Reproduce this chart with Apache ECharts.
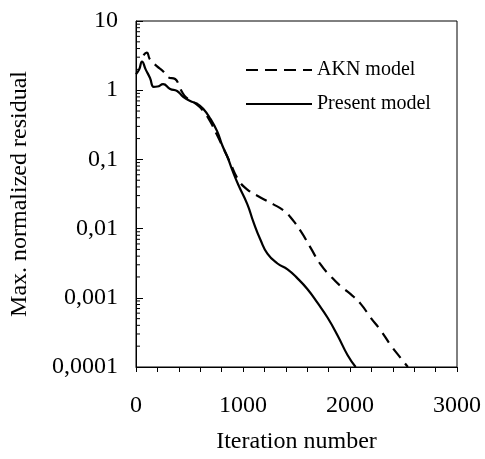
<!DOCTYPE html>
<html>
<head>
<meta charset="utf-8">
<script src="https://cdn.jsdelivr.net/npm/echarts@6/dist/echarts.min.js"></script>
<style>
html,body{margin:0;padding:0;background:#fff;}
#c{width:485px;height:459px;}
</style>
</head>
<body>
<div id="c"></div>
<script>
// Present model (solid)
var presentIter = [0, 30, 56, 90, 131, 165, 200, 253, 319, 384, 441, 506, 572, 628, 694, 759, 806, 853, 900, 956, 1041, 1097, 1163, 1228, 1322, 1416, 1509, 1603, 1697, 1791, 1884, 1978, 2053];
var presentVal  = [1.7, 2.0, 2.6, 2.0, 1.5, 1.12, 1.13, 1.22, 1.04, 0.975, 0.80, 0.70, 0.636, 0.54, 0.389, 0.254, 0.16, 0.11, 0.07, 0.043, 0.0224, 0.0125, 0.0069, 0.00435, 0.00313, 0.00257, 0.00191, 0.00133, 0.000843, 0.000515, 0.000286, 0.000148, 0.0001];
// AKN model (dashed)
var aknIter = [70, 100, 131, 197, 253, 300, 366, 400, 431, 470, 534, 628, 694, 759, 816, 881, 956, 1041, 1163, 1284, 1378, 1444, 1538, 1631, 1725, 1819, 1913, 2006, 2100, 2194, 2288, 2381, 2475, 2541];
var aknVal  = [3.2, 3.5, 2.78, 2.21, 1.88, 1.54, 1.45, 1.2, 0.94, 0.78, 0.68, 0.505, 0.352, 0.223, 0.145, 0.089, 0.051, 0.0366, 0.0282, 0.0224, 0.0184, 0.0146, 0.00925, 0.0053, 0.00303, 0.00205, 0.00147, 0.00113, 0.000817, 0.000515, 0.000336, 0.000206, 0.000134, 0.0001];
// Axis tick labels
var xTickLabels = ['0', '1000', '2000', '3000'];
var yTickLabels = ['0,0001', '0,001', '0,01', '0,1', '1', '10'];
var yMinorMultipliers = [2, 3, 4, 5, 6, 7, 8, 9];
var yDecades = [0.0001, 0.001, 0.01, 0.1, 1];

function pairs(xs, ys) { return xs.map(function (x, i) { return [x, ys[i]]; }); }
var minorData = [];
yDecades.forEach(function (d) { yMinorMultipliers.forEach(function (m) { minorData.push([0, d * m]); }); });

var FONT = '"Liberation Serif", "Times New Roman", serif';
var chart = echarts.init(document.getElementById('c'), null, {renderer: 'canvas'});
chart.setOption({
  animation: false,
  backgroundColor: '#fff',
  grid: {left: 136, top: 21, right: 28, bottom: 87, show: true, borderColor: '#000', borderWidth: 1, backgroundColor: 'transparent'},
  legend: {
    orient: 'vertical', left: 240, top: 55, itemWidth: 66, itemHeight: 14, itemGap: 14,
    textStyle: {fontFamily: FONT, fontSize: 20, color: '#000'},
    itemStyle: {opacity: 0},
    data: ['AKN model', 'Present model']
  },
  xAxis: {
    type: 'value', min: 0, max: 3000, interval: 1000,
    name: 'Iteration number', nameLocation: 'middle', nameGap: 63,
    nameTextStyle: {fontFamily: FONT, fontSize: 24, color: '#000'},
    axisLine: {show: true, lineStyle: {color: '#000', width: 1}},
    axisTick: {show: true, length: 5, lineStyle: {color: '#000'}},
    minorTick: {show: true, splitNumber: 5, length: 5, lineStyle: {color: '#000'}},
    splitLine: {show: false},
    axisLabel: {fontFamily: FONT, fontSize: 24, color: '#000', margin: 27,
      formatter: function (v) { return xTickLabels[Math.round(v / 1000)]; }}
  },
  yAxis: {
    type: 'log', logBase: 10, min: 0.0001, max: 10,
    name: 'Max. normalized residual', nameLocation: 'middle', nameGap: 104,
    nameTextStyle: {fontFamily: FONT, fontSize: 24, color: '#000'},
    axisLine: {show: true, lineStyle: {color: '#000', width: 1}},
    axisTick: {show: true, inside: true, length: 7, lineStyle: {color: '#000'}},
    splitLine: {show: false},
    axisLabel: {fontFamily: FONT, fontSize: 24, color: '#000', margin: 18,
      formatter: function (v) { return yTickLabels[Math.round(Math.log10(v)) + 4]; }}
  },
  series: [
    {
      name: 'AKN model', type: 'line', data: pairs(aknIter, aknVal),
      symbol: 'none', smooth: 0.5,
      lineStyle: {color: '#000', width: 2.2, type: [12, 7]},
      itemStyle: {color: '#000'}
    },
    {
      name: 'Present model', type: 'line', data: pairs(presentIter, presentVal),
      symbol: 'none', smooth: 0.5,
      lineStyle: {color: '#000', width: 2.2, type: 'solid'},
      itemStyle: {color: '#000'}
    },
    {
      name: 'minorTicks', type: 'custom', data: minorData, silent: true, clip: false,
      renderItem: function (params, api) {
        var p = api.coord([api.value(0), api.value(1)]);
        return {type: 'line', shape: {x1: p[0], y1: p[1], x2: p[0] + 4, y2: p[1]},
          style: {stroke: '#000', lineWidth: 1}};
      }
    }
  ]
});
</script>
</body>
</html>
